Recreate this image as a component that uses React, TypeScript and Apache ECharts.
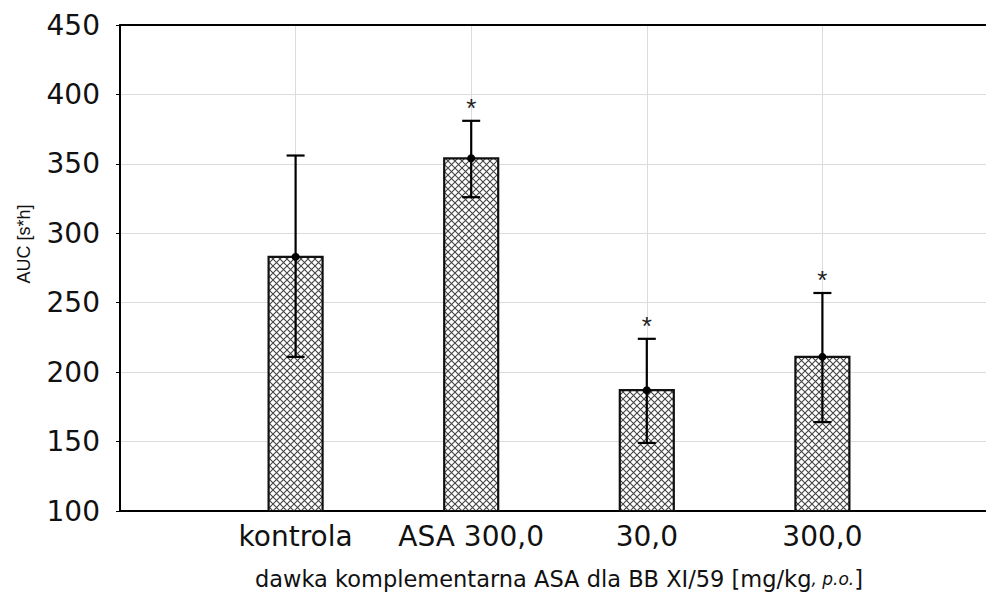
import React, { useEffect, useRef } from "react";
import * as echarts from "echarts";

const categories = ["kontrola", "ASA 300,0", "30,0", "300,0"];
const means = [283, 354, 187, 211];
const upper = [356, 381, 224, 257];
const lower = [211, 326, 149, 164];
const significant = [false, true, true, true];
const yTicks = { min: 100, max: 450, interval: 50 };

function makePattern() {
  const p = 7;
  const c = document.createElement("canvas");
  c.width = p;
  c.height = p;
  const ctx = c.getContext("2d")!;
  ctx.fillStyle = "#ffffff";
  ctx.fillRect(0, 0, p, p);
  ctx.strokeStyle = "#444444";
  ctx.lineWidth = 1.1;
  ctx.beginPath();
  ctx.moveTo(0, 0);
  ctx.lineTo(p, p);
  ctx.moveTo(0, p);
  ctx.lineTo(p, 0);
  ctx.stroke();
  return { image: c.toDataURL(), repeat: "repeat", imageWidth: p, imageHeight: p };
}

export default function App() {
  const ref = useRef<HTMLDivElement>(null);
  useEffect(() => {
    document.body.style.margin = "0";
    const chart = echarts.init(ref.current!, null, { renderer: "svg" });
    const pattern = makePattern();
    const barData = categories.map((_, i) => [i + 1, means[i], upper[i], lower[i], significant[i] ? 1 : 0]);
    const font = "DejaVu Sans";
    chart.setOption({
      animation: false,
      backgroundColor: "#ffffff",
      grid: { left: 120, top: 25, width: 878, height: 486, outerBoundsMode: "none", containLabel: false },
      xAxis: [
        {
          type: "value",
          min: 0,
          max: 5,
          interval: 1,
          position: "bottom",
          axisLine: { show: true, lineStyle: { color: "#000", width: 2 } },
          axisTick: { show: true, inside: true, length: 4, lineStyle: { color: "#000" } },
          axisLabel: {
            margin: 11,
            fontFamily: font,
            fontSize: 28,
            color: "#111",
            formatter: (v: number) => (v >= 1 && v <= categories.length ? categories[v - 1] : ""),
          },
          splitLine: { show: true, lineStyle: { color: "#dcdcdc", width: 1 } },
          name: "dawka komplementarna ASA dla BB XI/59 [mg/kg{i|, p.o.}]",
          nameLocation: "middle",
          nameGap: 56,
          nameTextStyle: {
            fontFamily: font,
            fontSize: 22.5,
            color: "#111",
            rich: { i: { fontFamily: font, fontSize: 17, fontStyle: "italic", color: "#111" } },
          },
        },
        {
          type: "value",
          min: 0,
          max: 5,
          position: "top",
          axisLine: { show: true, lineStyle: { color: "#000", width: 2 } },
          axisTick: { show: false },
          axisLabel: { show: false },
          splitLine: { show: false },
        },
      ],
      yAxis: {
        type: "value",
        min: yTicks.min,
        max: yTicks.max,
        interval: yTicks.interval,
        axisLine: { show: true, lineStyle: { color: "#000", width: 2 } },
        axisTick: { show: true, length: 4, lineStyle: { color: "#000" } },
        axisLabel: { margin: 20, fontFamily: font, fontSize: 28, color: "#111" },
        splitLine: { show: true, lineStyle: { color: "#dcdcdc", width: 1 } },
      },
      graphic: [
        {
          type: "text",
          x: 24,
          y: 244,
          rotation: Math.PI / 2,
          style: {
            text: "AUC [s*h]",
            fontFamily: "Liberation Sans",
            fontSize: 18,
            fill: "#111",
            align: "center",
            verticalAlign: "middle",
          },
        },
      ],
      series: [
        {
          type: "custom",
          clip: true,
          data: barData,
          renderItem: (params: any, api: any) => {
            const x = api.value(0);
            const m = api.value(1);
            const hi = api.value(2);
            const lo = api.value(3);
            const sig = api.value(4);
            const top = api.coord([x, m]);
            const base = api.coord([x, yTicks.min]);
            const pHi = api.coord([x, hi]);
            const pLo = api.coord([x, lo]);
            const bw = 54;
            const cap = 18;
            const children: any[] = [
              {
                type: "rect",
                shape: { x: top[0] - bw / 2, y: top[1], width: bw, height: base[1] - top[1] },
                style: { fill: pattern, stroke: "#111", lineWidth: 2.2 },
              },
              {
                type: "line",
                shape: { x1: pHi[0], y1: pHi[1], x2: pLo[0], y2: pLo[1] },
                style: { stroke: "#000", lineWidth: 2.2 },
              },
              {
                type: "line",
                shape: { x1: pHi[0] - cap / 2, y1: pHi[1], x2: pHi[0] + cap / 2, y2: pHi[1] },
                style: { stroke: "#000", lineWidth: 2.2 },
              },
              {
                type: "line",
                shape: { x1: pLo[0] - cap / 2, y1: pLo[1], x2: pLo[0] + cap / 2, y2: pLo[1] },
                style: { stroke: "#000", lineWidth: 2.2 },
              },
              {
                type: "circle",
                shape: { cx: top[0], cy: top[1], r: 4 },
                style: { fill: "#000" },
              },
            ];
            if (sig) {
              children.push({
                type: "text",
                x: pHi[0],
                y: pHi[1] - 13,
                style: {
                  text: "*",
                  fontFamily: "Liberation Sans",
                  fontSize: 26,
                  fill: "#222",
                  align: "center",
                  verticalAlign: "middle",
                },
              });
            }
            return { type: "group", children };
          },
        },
      ],
    });
    return () => chart.dispose();
  }, []);
  return <div ref={ref} style={{ position: "absolute", left: 0, top: 0, width: 986, height: 592 }} />;
}
